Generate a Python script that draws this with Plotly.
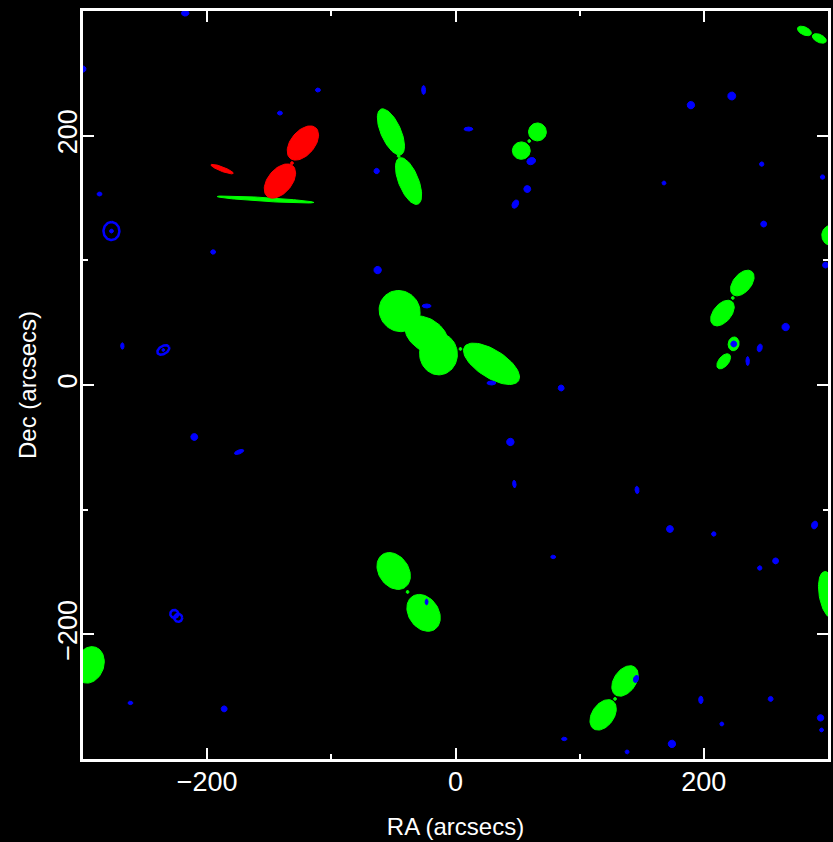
import numpy as np
import plotly.graph_objects as go

# Source ellipses: centre (RA, Dec) in arcsec, semi-axes (arcsec), position angle (deg from +RA)
green_ra   = [-52.0, -37.8, 66.0, 53.0, 281.0, 293.0, 302.0, 231.0, 215.0, 224.0, 216.0,
              -153.0, -45.0, -23.3, -13.7, 29.0, -49.8, -25.7, 300.4, 136.5, 118.9, -294.8,
              -45.8, 59.4, 223.3, -38.6, 4.0, 128.5]
green_dec  = [203.0, 163.6, 203.0, 188.0, 284.0, 278.0, 120.0, 81.8, 57.7, 33.0, 19.0,
              148.8, 59.3, 40.1, 24.9, 17.0, -149.2, -182.8, -168.4, -237.4, -264.6, -224.5,
              183.6, 195.7, 69.8, -166.0, 28.9, -251.8]
green_maj  = [20.0, 20.0, 7.2, 7.2, 6.0, 6.0, 8.0, 12.0, 12.0, 5.6, 7.2,
              39.0, 17.0, 19.3, 16.8, 25.7, 16.0, 16.0, 19.0, 13.6, 13.6, 15.0,
              1.2, 1.2, 1.2, 1.2, 1.2, 1.2]
green_min  = [8.0, 8.0, 7.2, 7.0, 3.2, 3.2, 7.0, 7.2, 7.2, 4.4, 4.0,
              1.5, 16.0, 12.8, 15.2, 11.2, 12.0, 12.0, 7.5, 8.8, 8.8, 11.5,
              1.2, 1.2, 1.2, 1.2, 1.2, 1.2]
green_pa   = [114, 112, 0, 0, -25, -25, 90, 50, 50, 80, 50,
              -3.5, 135, -35, 95, -32, -55, -55, 100, 55, 55, 70,
              0, 0, 0, 0, 0, 0]

red_ra  = [-122.9, -141.4, -188.0, -131.7]
red_dec = [194.1, 163.6, 173.2, 178.0]
red_maj = [16.0, 16.0, 9.6, 1.2]
red_min = [9.6, 9.6, 1.8, 1.2]
red_pa  = [50, 50, -21, 0]

blue_ra  = [-217.7, -299.6, -110.8, -141.4, -286.7, -277.1, -195.2, -25.7, -63.5, 10.4,
            61.0, 57.8, 48.2, -62.7, 222.5, 189.6, 246.6, 167.9, 295.6, 248.2,
            298.0, 265.9, 245.0, 235.3, 85.1, 224.1, 146.2, 172.7, 208.0, 289.2,
            257.8, 245.0, 145.4, 197.6, 253.8, 294.0, 294.8, 214.5, 174.3, 138.2,
            87.6, 78.7, -23.3, -23.3, 28.9, 44.2, 47.4, -268.3, -235.3, -210.4,
            -174.3, -261.8, -186.3]
blue_dec = [298.3, 253.4, 236.6, 218.1, 153.2, 123.5, 106.7, 236.6, 171.6, 205.3,
            179.6, 157.2, 145.1, 92.2, 231.8, 224.5, 177.2, 162.0, 166.8, 129.1,
            96.2, 46.5, 29.7, 19.2, -2.4, 32.9, -84.2, -115.5, -119.5, -112.3,
            -141.1, -146.8, -235.8, -252.6, -251.8, -267.0, -276.7, -271.9, -287.9, -294.3,
            -283.9, -137.9, -174.0, 63.4, 1.6, -45.7, -79.4, 31.3, 28.1, -41.7,
            -53.7, -255.0, -259.8]
blue_maj = [3.0, 2.4, 2.0, 2.0, 2.0, 1.6, 2.0, 3.6, 2.2, 3.6,
            3.6, 2.8, 3.6, 3.0, 3.2, 3.0, 1.8, 1.6, 1.8, 2.4,
            2.4, 3.0, 3.2, 3.6, 2.4, 2.4, 3.0, 2.8, 1.8, 3.2,
            2.4, 1.8, 3.0, 3.0, 2.0, 2.6, 1.6, 1.6, 3.0, 1.6,
            2.2, 2.0, 2.4, 3.6, 3.6, 3.0, 3.0, 2.6, 1.2, 2.8,
            4.0, 2.0, 2.4]
blue_min = [2.4, 2.0, 1.6, 1.6, 1.6, 1.6, 1.8, 1.6, 2.2, 1.6,
            2.8, 2.8, 2.4, 3.0, 3.2, 3.0, 1.8, 1.6, 1.8, 2.4,
            2.4, 3.0, 2.0, 1.4, 2.4, 2.4, 1.6, 2.8, 1.8, 2.4,
            2.4, 1.8, 2.0, 1.8, 2.0, 2.6, 1.6, 1.6, 3.0, 1.6,
            1.4, 1.4, 1.2, 1.6, 1.6, 3.0, 1.4, 1.4, 1.2, 2.8,
            1.6, 1.4, 2.4]
blue_pa  = [0, 90, 0, 0, 0, 0, 0, 90, 0, 0,
            20, 0, 60, 0, 0, 0, 0, 0, 0, 0,
            0, 0, 75, 90, 0, 0, 95, 0, 0, 70,
            0, 0, 70, 90, 0, 0, 0, 0, 0, 0,
            0, 0, 90, 0, 0, 0, 95, 90, 0, 0,
            20, 0, 0]

# Open (contour-only) blue sources
ring_ra  = [-277.1, -235.3, -226.5, -223.3]
ring_dec = [123.5, 28.1, -183.6, -186.8]
ring_maj = [7.2, 5.2, 3.2, 3.2]
ring_min = [6.4, 3.2, 3.2, 3.2]
ring_pa  = [90, 30, 0, 0]

tick_vals = [-200, 0, 200]
tick_text = ["\u2212200", "0", "200"]


def ellipse_outline(ra, dec, maj, mnr, pa, n=73):
    xs, ys = [], []
    t = np.linspace(0, 2 * np.pi, n)
    for cx, cy, a, b, p in zip(ra, dec, maj, mnr, pa):
        th = np.deg2rad(p)
        x = cx + a * np.cos(t) * np.cos(th) - b * np.sin(t) * np.sin(th)
        y = cy + a * np.cos(t) * np.sin(th) + b * np.sin(t) * np.cos(th)
        xs += list(x) + [None]
        ys += list(y) + [None]
    return xs, ys


fig = go.Figure()

# green and red first, blue sources drawn on top
for ra, dec, maj, mnr, pa, col in [
    (green_ra, green_dec, green_maj, green_min, green_pa, "#00ff00"),
    (red_ra, red_dec, red_maj, red_min, red_pa, "#ff0000"),
    (blue_ra, blue_dec, blue_maj, blue_min, blue_pa, "#0000ff"),
]:
    for i in range(len(ra)):
        xs, ys = ellipse_outline([ra[i]], [dec[i]], [maj[i]], [mnr[i]], [pa[i]])
        fig.add_trace(go.Scatter(x=xs, y=ys, mode="lines", fill="toself",
                                 fillcolor=col, line=dict(color=col, width=1),
                                 hoverinfo="skip", showlegend=False))

xs, ys = ellipse_outline(ring_ra, ring_dec, ring_maj, ring_min, ring_pa)
fig.add_trace(go.Scatter(x=xs, y=ys, mode="lines", line=dict(color="#0000ff", width=2.5),
                         hoverinfo="skip", showlegend=False))

axis_common = dict(
    range=[-300, 300], showgrid=False, zeroline=False,
    showline=True, linecolor="white", linewidth=3, mirror="ticks",
    ticks="inside", ticklen=11, tickwidth=2, tickcolor="white",
    tickvals=tick_vals, ticktext=tick_text,
    minor=dict(ticks="inside", ticklen=5, tickwidth=2, tickcolor="white",
               tickvals=[-100, 100]),
    tickfont=dict(family="Liberation Sans", size=27, color="white"),
)

fig.update_layout(
    width=833, height=842,
    margin=dict(l=83, r=2, t=11, b=83),
    paper_bgcolor="black", plot_bgcolor="black",
    xaxis=dict(**axis_common, ticklabelstandoff=-3,
               title=dict(text="RA (arcsecs)", standoff=22,
                          font=dict(family="Liberation Sans", size=24, color="white"))),
    yaxis=dict(**axis_common, tickangle=-90, ticklabelstandoff=-8,
               title=dict(text="Dec (arcsecs)", standoff=10,
                          font=dict(family="Liberation Sans", size=24, color="white"))),
)

fig.write_html("out.html")
